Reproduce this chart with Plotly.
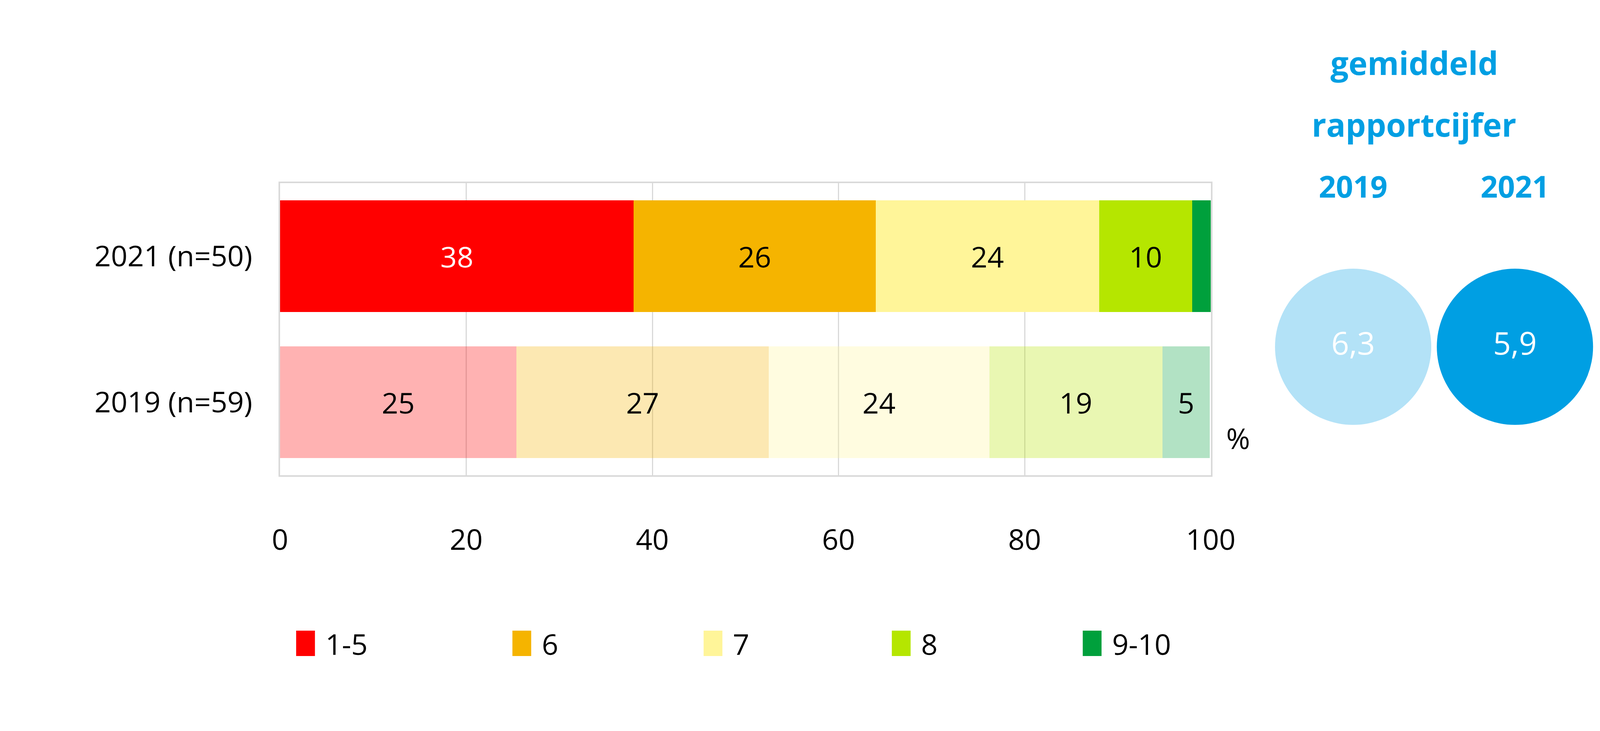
import plotly.graph_objects as go

# data
groups = ["2019 (n=59)", "2021 (n=50)"]
ratings = ["1-5", "6", "7", "8", "9-10"]
pct_2019 = [25.4, 27.1, 23.7, 18.6, 5.1]
pct_2021 = [38, 26, 24, 10, 2]
avg_years = ["2019", "2021"]
avg_grade = [6.3, 5.9]

COLORS = ["#FF0000", "#F5B400", "#FFF599", "#B5E600", "#00A03C"]
BLUE = "#009FE3"
FONT = "Open Sans"

# positions are measured on the 5792x1872 reference; the page itself is 4096 wide,
# so horizontal pixel values get scaled by SX, vertical ones stay as they are
RW, RH = 5792, 1872
W = 4096
SX = W / RW
FS = 0.8          # font scale, between the horizontal and vertical factor
L, R, T, B = 1002, 40, 461, 663


def px(x):
    return (x - L) / (RW - L - R)


def py(y):
    return (RH - B - y) / (RH - T - B)


def fs(n):
    return round(n * FS)


fig = go.Figure()
for i, (r, col) in enumerate(zip(ratings, COLORS)):
    vals = [pct_2019[i], pct_2021[i]]
    fig.add_trace(go.Bar(
        y=groups, x=vals, orientation="h", name=r, showlegend=False,
        marker=dict(color=col, opacity=[0.3, 1], line=dict(width=0)),
        text=[f"{v:.0f}" if v >= 3 else "" for v in vals],
        textposition="inside", insidetextanchor="middle", textangle=0,
        constraintext="none",
        textfont=dict(family=FONT, size=fs(92),
                      color=["white" if (i == 0 and j == 1) else "black" for j in range(2)]),
        hovertemplate="%{y}<br>" + r + ": %{x:.0f}%<extra></extra>"))

# average grade bubbles
fig.add_trace(go.Scatter(
    x=avg_years, y=[0, 0], xaxis="x2", yaxis="y2", mode="markers+text",
    marker=dict(size=400, color=["#B3E2F7", "#009FE3"], line=dict(width=0)),
    text=[f"{v:.1f}".replace(".", ",") for v in avg_grade],
    textposition="middle center",
    textfont=dict(family=FONT, size=fs(100), color="white"),
    showlegend=False, cliponaxis=False, hoverinfo="skip"))

fig.update_layout(
    width=W, height=RH,
    margin=dict(l=round(L * SX), r=round(R * SX), t=T, b=B, pad=0),
    paper_bgcolor="white", plot_bgcolor="white",
    barmode="stack", bargap=0.233, showlegend=False,
    font=dict(family=FONT, size=fs(92), color="black"),
    xaxis=dict(domain=[0, px(4419)], range=[0, 100], dtick=20, tick0=0,
               showgrid=True, gridcolor="#D9D9D9", gridwidth=3, zeroline=False,
               showline=True, mirror=True, linecolor="#D9D9D9", linewidth=4,
               ticks="", ticklabelstandoff=98),
    yaxis=dict(categoryorder="array", categoryarray=groups, range=[-0.5, 1.5],
               showline=True, mirror=True, linecolor="#D9D9D9", linewidth=4,
               ticks="", ticklabelstandoff=52, showgrid=False),
    xaxis2=dict(type="category", domain=[0.74, 1.0], anchor="y2", side="top",
                range=[-0.715, 1.364], showgrid=False, zeroline=False,
                showline=False, ticks="", ticklabelstandoff=8,
                tickfont=dict(family=FONT, size=fs(96), color=BLUE, weight="bold")),
    yaxis2=dict(domain=[0, 0.918], anchor="x2", range=[-0.958, 1.042], visible=False),
)

for line, yc in [("gemiddeld", 152), ("rapportcijfer", 310)]:
    fig.add_annotation(xref="paper", yref="paper", x=px(5166), y=py(yc),
                       text=line, showarrow=False, xanchor="center", yanchor="middle",
                       font=dict(family=FONT, size=fs(102), color=BLUE, weight="bold"))
fig.add_annotation(xref="paper", yref="paper", x=px(4520), y=py(1113),
                   text="%", showarrow=False, xanchor="center", yanchor="middle")

# legend keys
leg_x = [1061, 1855, 2557, 3248, 3949]
for lbl, col, x0 in zip(ratings, COLORS, leg_x):
    fig.add_shape(type="rect", xref="paper", yref="paper",
                  x0=px(x0), x1=px(x0 + 69), y0=py(1672), y1=py(1607),
                  fillcolor=col, line_width=0)
    fig.add_annotation(xref="paper", yref="paper", x=px(x0 + 105), y=py(1640),
                       text=lbl, showarrow=False, xanchor="left", yanchor="middle")

fig.write_html("out.html")
